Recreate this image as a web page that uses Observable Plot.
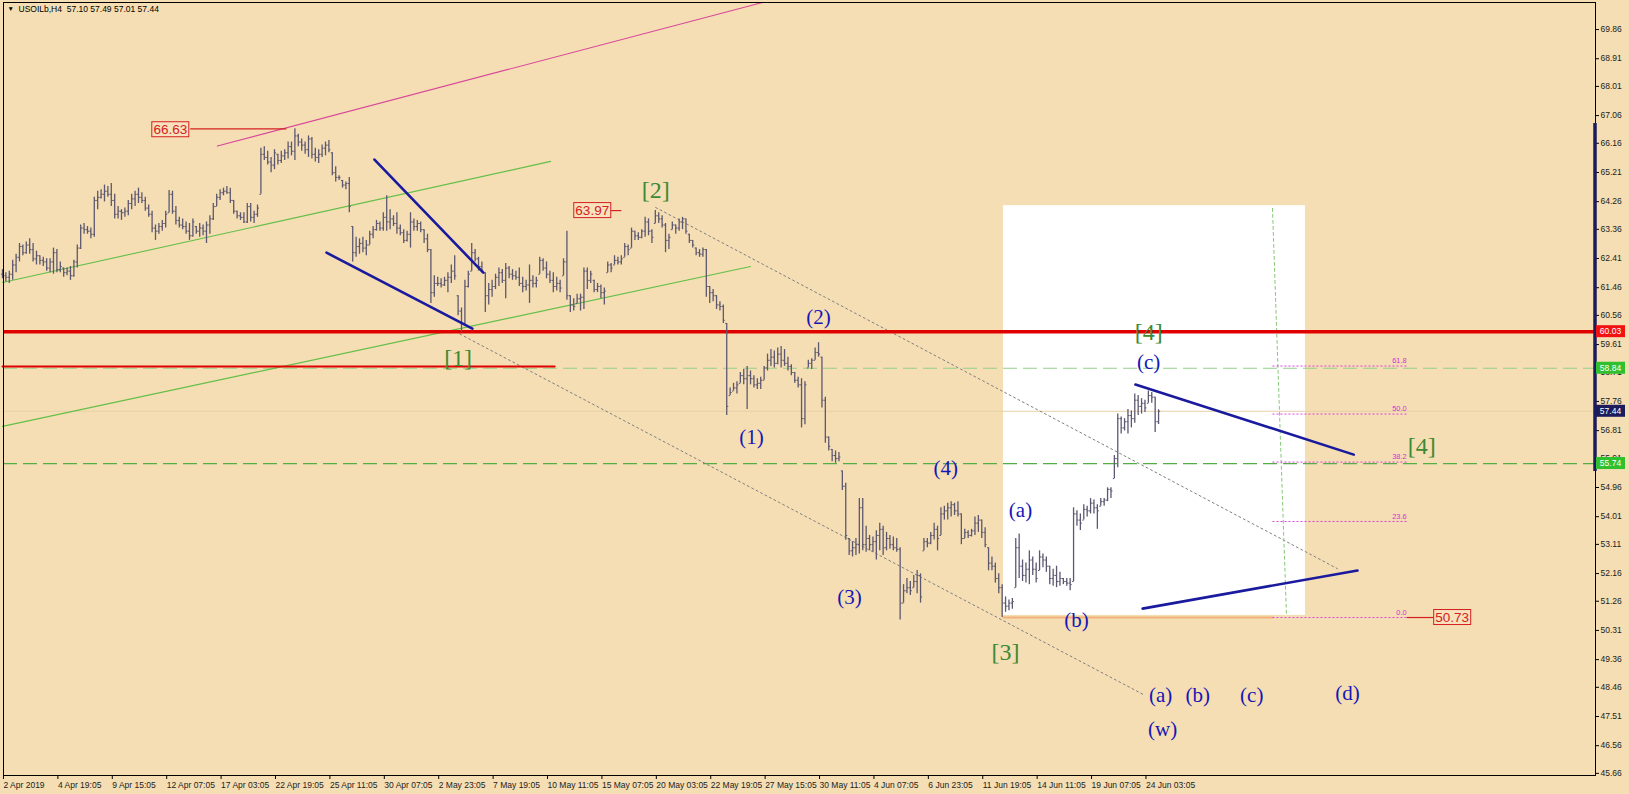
<!DOCTYPE html>
<html><head><meta charset="utf-8">
<script src="https://cdn.jsdelivr.net/npm/d3@7"></script>
<script src="https://cdn.jsdelivr.net/npm/@observablehq/plot@0.6"></script>
<style>
html,body{margin:0;padding:0;background:#f5deb3;overflow:hidden;}
svg{display:block;}
</style>
</head><body>
<script>
// ---------- DATA ----------
const header = "USOILb,H4  57.10 57.49 57.01 57.44";
const firstOpen = 61.9;
const highs = [
62.05,61.95,62.0,62.35,62.55,62.9,62.85,62.95,63.05,62.9,
62.65,62.5,62.45,62.4,62.4,62.75,62.7,62.3,62.1,62.1,
62.15,62.35,62.85,63.5,63.55,63.45,63.4,64.4,64.6,64.65,
64.8,64.75,64.85,64.5,64.1,64.0,64.05,64.3,64.5,64.6,
64.7,64.55,64.4,64.15,63.95,63.5,63.55,63.65,63.95,64.62,
64.6,64.1,63.75,63.7,63.6,63.55,63.7,63.45,63.55,63.5,
63.6,63.8,64.2,64.5,64.65,64.7,64.75,64.7,64.3,63.95,
63.9,63.9,64.2,64.2,63.95,64.15,66.0,66.05,65.9,65.7,
65.95,65.8,65.9,65.95,66.2,66.2,66.63,66.45,66.3,66.2,
66.4,66.35,66.0,65.95,66.1,66.2,66.25,65.85,65.4,65.1,
64.95,64.9,65.05,63.45,63.1,63.05,63.1,63.0,63.3,63.45,
63.65,63.6,63.9,64.45,64.0,63.8,63.9,63.5,63.35,63.3,
63.9,63.7,63.65,63.6,63.35,63.2,62.7,61.85,61.8,61.75,
61.8,61.95,62.2,62.5,61.2,60.8,61.7,62.0,62.9,62.7,
62.45,62.3,61.95,61.6,61.7,61.9,62.1,62.05,62.25,62.15,
62.05,62.0,62.1,61.8,61.7,62.2,61.85,61.8,62.45,62.4,
62.3,62.0,61.95,61.8,61.7,62.4,63.3,61.2,61.1,61.25,
61.25,62.1,62.1,62.0,61.7,61.6,61.55,61.45,62.3,62.25,
62.5,62.45,62.5,62.9,62.85,63.4,63.3,63.25,63.35,63.75,
63.7,63.35,63.97,63.9,63.8,63.55,63.2,63.6,63.5,63.7,
63.75,63.7,63.2,63.0,62.75,62.7,62.75,62.7,61.5,61.4,
61.2,61.0,60.9,60.3,58.2,58.35,58.4,58.7,58.8,58.9,
58.75,58.6,58.5,58.55,58.9,59.3,59.45,59.4,59.5,59.55,
59.45,59.2,58.95,58.7,58.55,58.5,58.4,59.1,59.15,59.5,
59.67,59.2,57.9,56.6,56.2,56.15,56.1,55.5,55.1,53.3,
53.2,53.3,54.6,54.6,53.7,53.4,53.35,53.55,53.8,53.7,
53.5,53.4,53.35,53.3,53.0,51.8,52.0,51.9,52.1,52.26,
52.15,53.3,53.3,53.5,53.8,53.7,54.3,54.35,54.45,54.5,
54.45,54.5,54.1,53.6,53.55,53.6,54.0,54.05,53.9,53.65,
53.0,52.7,52.5,52.15,51.8,51.4,51.3,51.35,53.3,53.45,
52.6,52.5,52.9,52.7,52.5,52.9,52.8,52.7,52.4,52.3,
52.4,52.2,52.0,52.0,52.0,54.3,54.2,54.1,54.4,54.35,
54.6,54.55,54.4,54.6,54.6,54.95,54.95,56.0,57.35,57.25,
57.2,57.5,57.45,58.0,57.95,57.85,57.8,58.1,58.05,57.9,
57.49];
const lows = [
61.75,61.65,61.6,61.7,61.95,62.3,62.5,62.55,62.55,62.3,
62.2,62.2,62.15,62.0,61.95,61.9,61.95,61.95,61.8,61.85,
61.7,61.8,62.1,62.7,63.2,63.2,63.05,63.1,64.0,64.35,
64.25,64.4,64.1,63.7,63.7,63.65,63.75,63.8,64.0,64.1,
64.2,64.2,63.95,63.75,63.25,63.0,63.2,63.3,63.4,63.9,
63.85,63.5,63.4,63.35,63.2,63.0,63.1,63.2,63.1,63.15,
62.9,63.2,63.65,64.1,64.3,64.45,64.5,64.2,63.85,63.7,
63.65,63.55,63.55,63.6,63.55,63.75,64.5,65.6,65.45,65.2,
65.3,65.45,65.5,65.6,65.65,65.75,65.6,66.05,65.9,65.8,
65.7,65.65,65.55,65.5,65.7,65.75,65.85,65.1,64.9,64.95,
64.7,64.65,63.9,62.3,62.45,62.55,62.6,62.5,62.85,63.05,
63.3,63.3,63.3,63.3,63.35,63.45,63.2,63.15,62.9,62.95,
62.75,63.3,63.3,63.25,62.9,62.6,60.95,61.15,61.5,61.45,
61.5,61.3,61.6,61.7,60.55,60.0,60.2,61.45,62.0,62.3,
62.0,61.95,60.65,60.9,61.15,61.4,61.5,61.6,61.1,61.75,
61.7,61.7,61.5,61.3,61.35,60.95,61.45,61.45,61.9,62.0,
61.75,61.6,61.3,61.35,61.3,61.85,61.05,60.65,60.7,60.95,
60.7,60.75,61.4,61.6,61.3,61.3,61.1,60.9,61.95,61.95,
62.2,62.2,62.2,62.45,62.5,62.75,63.0,63.0,63.05,63.1,
63.15,62.9,63.55,63.55,63.4,62.6,62.7,63.35,63.2,63.3,
63.35,63.2,62.9,62.75,62.5,62.45,62.45,61.15,60.95,61.0,
60.75,60.7,60.3,57.3,57.95,58.1,58.0,58.35,58.3,57.5,
58.3,58.2,58.15,58.15,58.45,58.75,58.9,58.85,58.95,58.85,
58.9,58.75,58.6,58.35,58.2,56.9,57.0,58.85,58.8,59.1,
59.2,57.55,56.4,56.15,55.8,55.75,55.8,54.86,53.24,52.75,
52.7,52.75,52.8,52.9,52.85,52.9,52.85,52.6,52.9,52.75,
52.9,52.95,52.9,52.85,50.65,51.2,51.5,51.45,51.7,51.5,
51.2,52.9,53.0,53.1,53.25,52.9,53.4,53.9,53.9,54.0,
54.05,54.0,53.1,53.3,53.3,53.35,53.4,53.5,53.3,53.0,
52.25,52.25,51.85,51.5,50.73,50.9,50.95,51.0,51.7,52.0,
51.9,51.85,51.8,52.1,51.85,52.26,52.35,52.2,51.8,51.75,
51.7,51.75,51.8,51.75,51.6,51.9,53.7,53.56,53.9,54.0,
54.1,54.1,53.6,54.35,54.35,54.5,54.6,55.25,55.6,56.7,
56.8,56.7,56.9,57.05,57.3,57.35,57.4,57.7,57.7,56.75,
57.01];
const closes = [
61.85,61.8,61.9,62.2,62.45,62.8,62.6,62.85,62.7,62.4,
62.5,62.35,62.3,62.1,62.3,62.6,62.05,62.15,61.95,62.0,
61.85,62.3,62.75,63.4,63.35,63.3,63.2,64.3,64.4,64.5,
64.6,64.5,64.3,63.85,63.95,63.9,63.95,64.2,64.35,64.5,
64.4,64.3,64.05,63.85,63.4,63.3,63.45,63.55,63.85,64.5,
63.95,63.65,63.5,63.45,63.3,63.15,63.6,63.3,63.4,63.3,
63.5,63.7,64.1,64.4,64.55,64.6,64.55,64.3,63.95,63.8,
63.75,63.6,64.1,63.75,63.85,64.05,65.8,65.7,65.55,65.45,
65.85,65.6,65.75,65.85,66.05,65.9,66.4,66.2,66.1,65.95,
66.3,65.8,65.7,65.8,66.0,66.1,65.95,65.2,65.05,65.05,
64.8,64.85,64.1,62.6,62.8,62.9,62.75,62.85,63.2,63.35,
63.55,63.4,63.75,63.6,63.7,63.55,63.4,63.25,63.0,63.2,
63.6,63.45,63.55,63.35,63.05,62.7,61.3,61.6,61.6,61.55,
61.7,61.8,62.0,61.85,60.7,60.3,61.5,61.9,62.6,62.4,
62.15,62.0,61.2,61.4,61.5,61.8,61.95,61.7,62.1,61.9,
61.85,61.8,61.6,61.5,61.55,61.7,61.6,61.7,62.35,62.1,
61.9,61.7,61.5,61.6,61.45,62.3,61.2,60.9,60.85,61.1,
61.15,62.0,61.7,61.9,61.4,61.5,61.3,61.35,62.2,62.1,
62.35,62.3,62.4,62.8,62.7,63.3,63.15,63.1,63.3,63.6,
63.3,63.1,63.8,63.7,63.5,63.0,63.1,63.5,63.4,63.6,
63.7,63.3,63.0,62.85,62.6,62.55,62.7,61.5,61.3,61.2,
60.9,60.85,60.4,57.6,58.05,58.2,58.3,58.6,58.5,58.6,
58.5,58.3,58.35,58.45,58.85,59.1,59.2,59.0,59.3,59.1,
59.0,58.9,58.7,58.45,58.3,57.2,58.3,59.0,59.1,59.35,
59.3,57.8,56.6,56.3,56.0,55.9,55.95,55.0,53.4,52.9,
53.0,53.1,54.3,53.1,53.3,53.1,53.2,53.4,53.6,53.0,
53.3,53.1,53.0,52.95,51.2,51.6,51.7,51.6,51.9,52.1,
51.4,53.2,53.15,53.4,53.6,53.3,54.1,54.2,54.3,54.4,
54.2,54.1,53.3,53.5,53.4,53.55,53.8,53.9,53.5,53.1,
52.5,52.4,52.0,51.7,51.2,51.1,51.2,51.25,53.0,52.4,
52.1,52.3,52.6,52.3,52.0,52.7,52.6,52.4,52.0,52.1,
51.9,52.0,51.9,51.85,51.8,54.1,53.9,53.8,54.25,54.2,
54.45,54.3,54.2,54.5,54.55,54.9,54.85,55.9,57.2,56.9,
57.1,57.3,57.2,57.8,57.6,57.7,57.55,57.95,57.9,57.10,
57.44];

// visible window (bar index, price)
const visibleBars = [0.3, 468.5];
const visiblePrices = [45.59, 70.74];

// price axis ticks
const priceTicks = [69.86,68.91,68.01,67.06,66.16,65.21,64.26,63.36,62.41,61.46,60.56,59.61,58.71,57.76,56.81,55.91,54.96,54.01,53.11,52.16,51.26,50.31,49.36,48.46,47.51,46.56,45.66];
// time axis
const timeTickBars = [0,16,32,48,64,80,96,112,128,144,160,176,192,208,224,240,256,272,288,304,320,336];
const timeTickLabels = ["2 Apr 2019","4 Apr 19:05","9 Apr 15:05","12 Apr 07:05","17 Apr 03:05","22 Apr 19:05","25 Apr 11:05","30 Apr 07:05","2 May 23:05","7 May 19:05","10 May 11:05","15 May 07:05","20 May 03:05","22 May 19:05","27 May 15:05","30 May 11:05","4 Jun 07:05","6 Jun 23:05","11 Jun 19:05","14 Jun 11:05","19 Jun 07:05","24 Jun 03:05"];

// horizontal levels
const resistance = 60.03;
const greenLevelUpper = 58.84;
const greenLevelLower = 55.74;
const lastPrice = 57.44;
const redShortLine = [{i:0, p:58.9},{i:162.4, p:58.9}];

// trend lines (bar index, price)
const pinkLine = [{i:63.2, p:66.07},{i:223.5, p:70.74}];
const greenUpper = [{i:0, p:61.63},{i:161.2, p:65.57}];
const greenLower = [{i:0, p:56.95},{i:220, p:62.15}];
const wedgeTop = [{i:109.4, p:65.63},{i:141.4, p:61.95}];
const wedgeBottom = [{i:95.3, p:62.6},{i:138.2, p:60.13}];
const triTop = [{i:333.2, p:58.31},{i:397.4, p:56.03}];
const triBottom = [{i:335.3, p:51.02},{i:398.5, p:52.26}];
const dotUpper = [{i:192.1, p:64.07},{i:392.6, p:52.32}];
const dotLower = [{i:133.2, p:60.03},{i:335.6, p:48.22}];
const greenVertical = [{i:373.5, p:64.04},{i:377.6, p:50.86}];
const whiteBox = [{x1:294.4, x2:383.2, y1:50.8, y2:64.13}];
const lowLine = [{i:294.4, p:50.73},{i:373.5, p:50.73}];

// fibonacci retracement 50.73 -> 63.97
const fibLow = 50.73, fibHigh = 63.97;
const fibRatios = [0, 23.6, 38.2, 50.0, 61.8];
const fibSpan = [373.5, 413];

// price tags
const priceTags = [
  {label:"66.63", i:49.5, p:66.6, from:55.2, to:83.5, lineP:66.63},
  {label:"63.97", i:173.6, p:63.97, from:178.8, to:182, lineP:63.97},
  {label:"50.73", i:426.5, p:50.73, from:413, to:421.2, lineP:50.73}
];

// wave labels
const greenLabels = [
  {t:"[2]", i:192.1, p:64.62},{t:"[1]", i:134.0, p:59.16},{t:"[3]", i:295.0, p:49.59},
  {t:"[4]", i:337.1, p:60.0},{t:"[4]", i:417.4, p:56.29}
];
const blueLabels = [
  {t:"(2)", i:240.0, p:60.51},{t:"(1)", i:220.3, p:56.6},{t:"(3)", i:249.1, p:51.38},
  {t:"(4)", i:277.4, p:55.6},{t:"(a)", i:299.4, p:54.21},{t:"(b)", i:315.9, p:50.63},
  {t:"(c)", i:337.1, p:59.03},{t:"(a)", i:340.6, p:48.19},{t:"(b)", i:351.5, p:48.19},
  {t:"(c)", i:367.4, p:48.19},{t:"(d)", i:395.6, p:48.26},{t:"(w)", i:341.2, p:47.09}
];

// right-scale markers
const axisMarkers = [
  {p:60.03, bg:"#f21212"},{p:58.84, bg:"#2fbf2f"},{p:57.44, bg:"#1b1b5e"},{p:55.74, bg:"#2fbf2f"}
];
const scaleBar = [55.48, 66.8];

// ---------- BUILD ----------
const bars = highs.map((h, i) => {
  const prev = i ? closes[i-1] : firstOpen;
  return {i, high:h, low:lows[i], close:closes[i], open: Math.min(h, Math.max(lows[i], prev))};
});
const fibLevels = fibRatios.map(r => ({r, p: fibLow + (fibHigh - fibLow) * r / 100}));
const labelMap = new Map(timeTickBars.map((b, k) => [b, timeTickLabels[k]]));

const barColor = "#5d5870";
const navy = "#1a1a9e";
const waveGreen = "#3b8a35";
const waveBlue = "#1616b8";

const line = (d, o) => Plot.line(d, {x:"i", y:"p", ...o});

const chart = Plot.plot({
  width: 1629, height: 794,
  marginLeft: 3, marginRight: 34, marginTop: 2, marginBottom: 19,
  style: {background:"#f5deb3", fontFamily:"'Liberation Sans', Arial, sans-serif", fontSize:"8.5px", color:"#000", overflow:"visible"},
  x: {type:"linear", domain: visibleBars, axis: null},
  y: {type:"linear", domain: visiblePrices, axis: null},
  marks: [
    Plot.rect(whiteBox, {x1:"x1", x2:"x2", y1:"y1", y2:"y2", fill:"#ffffff"}),
    Plot.ruleY([lastPrice], {stroke:"#e6d2a8", strokeWidth:1}),
    Plot.ruleY([greenLevelUpper], {stroke:"#93cf8a", strokeWidth:1.2, strokeDasharray:"14,6"}),
    Plot.ruleY([greenLevelLower], {stroke:"#55ad45", strokeWidth:1.2, strokeDasharray:"14,6"}),
    line(lowLine, {stroke:"#f2b07a", strokeWidth:2}),
    line(pinkLine, {stroke:"#d9489a", strokeWidth:1.2}),
    line(greenUpper, {stroke:"#63bf48", strokeWidth:1.1}),
    line(greenLower, {stroke:"#63bf48", strokeWidth:1.1}),
    line(dotUpper, {stroke:"#808080", strokeWidth:1, strokeDasharray:"2,3"}),
    line(dotLower, {stroke:"#808080", strokeWidth:1, strokeDasharray:"2,3"}),
    line(greenVertical, {stroke:"#86c878", strokeWidth:1, strokeDasharray:"3,3"}),
    Plot.link(fibLevels, {x1:() => fibSpan[0], x2:() => fibSpan[1], y1:"p", y2:"p", stroke:"#dd3fdd", strokeWidth:1, strokeDasharray:"2,2"}),
    Plot.text(fibLevels, {x:() => fibSpan[1], y:"p", text:d => d.r.toFixed(1), textAnchor:"end", dy:-5, fill:"#d62fd6", fontSize:7.5}),
    Plot.ruleY([resistance], {stroke:"#e00000", strokeWidth:3.5}),
    line(redShortLine, {stroke:"#e00000", strokeWidth:2}),
    // OHLC bars
    Plot.ruleX(bars, {x:"i", y1:"low", y2:"high", stroke:barColor, strokeWidth:1.3}),
    Plot.link(bars, {x1:d => d.i - 0.45, x2:"i", y1:"open", y2:"open", stroke:barColor, strokeWidth:1}),
    Plot.link(bars, {x1:"i", x2:d => d.i + 0.45, y1:"close", y2:"close", stroke:barColor, strokeWidth:1}),
    // navy pattern lines
    line(wedgeTop, {stroke:navy, strokeWidth:2.6}),
    line(wedgeBottom, {stroke:navy, strokeWidth:2.6}),
    line(triTop, {stroke:navy, strokeWidth:2.6}),
    line(triBottom, {stroke:navy, strokeWidth:2.6}),
    // price tag connectors
    Plot.link(priceTags, {x1:"from", x2:"to", y1:"lineP", y2:"lineP", stroke:"#d42020", strokeWidth:1.2}),
    // wave labels
    Plot.text(greenLabels, {x:"i", y:"p", text:"t", fill:waveGreen, fontSize:24, fontFamily:"'Liberation Serif', 'Times New Roman', serif"}),
    Plot.text(blueLabels, {x:"i", y:"p", text:"t", fill:waveBlue, fontSize:21, fontFamily:"'Liberation Serif', 'Times New Roman', serif"}),
    // axes
    Plot.axisY(priceTicks, {anchor:"right", tickSize:3, tickPadding:2, tickFormat:d => d.toFixed(2), fontSize:8.5, stroke:"#000", fill:"#222"}),
    Plot.axisX(timeTickBars, {anchor:"bottom", tickSize:4, tickPadding:2, tickFormat:d => labelMap.get(d), textAnchor:"start", dx:1, fontSize:8.5, fill:"#222"}),
    Plot.frame({stroke:"#000", strokeWidth:1}),
    Plot.text([header], {frameAnchor:"top-left", dx:15, dy:3, textAnchor:"start", lineAnchor:"top", fontSize:8.5, fill:"#000"}),
    Plot.text(["▼"], {frameAnchor:"top-left", dx:4, dy:4, textAnchor:"start", lineAnchor:"top", fontSize:6.5, fill:"#000"})
  ]
});
document.body.appendChild(chart);

// ---------- extras drawn with the plot's own scales ----------
const xs = chart.scale("x"), ys = chart.scale("y");
const X = v => xs.apply(v), Y = v => ys.apply(v);
const svg = d3.select(chart);
const g = svg.append("g").attr("text-anchor", "middle");
const rightEdge = X(visibleBars[1]);

// navy scale bar at the right edge
g.append("line").attr("x1", rightEdge).attr("x2", rightEdge)
  .attr("y1", Y(scaleBar[0])).attr("y2", Y(scaleBar[1]))
  .attr("stroke", "#1c1c5c").attr("stroke-width", 3.5);

// price tags
priceTags.forEach(t => {
  const cx = X(t.i), cy = Y(t.p);
  g.append("rect").attr("x", cx - 18.5).attr("y", cy - 7.5).attr("width", 37).attr("height", 15)
    .attr("fill", "#f7e2bd").attr("stroke", "#d42020").attr("stroke-width", 1);
  g.append("text").attr("x", cx).attr("y", cy).attr("text-anchor", "middle").attr("dy", "0.36em")
    .attr("font-family", "'Liberation Sans', Arial, sans-serif").attr("font-size", 13.5).attr("fill", "#d42020").text(t.label);
});

// right-scale highlighted values
axisMarkers.forEach(m => {
  const cy = Y(m.p);
  g.append("rect").attr("x", rightEdge + 1).attr("y", cy - 6).attr("width", 29).attr("height", 12).attr("fill", m.bg);
  g.append("text").attr("x", rightEdge + 15.5).attr("y", cy).attr("dy", "0.36em").attr("text-anchor", "middle")
    .attr("font-family", "'Liberation Sans', Arial, sans-serif").attr("font-size", 8.5).attr("fill", "#ffffff").text(m.p.toFixed(2));
});
</script>
</body></html>
